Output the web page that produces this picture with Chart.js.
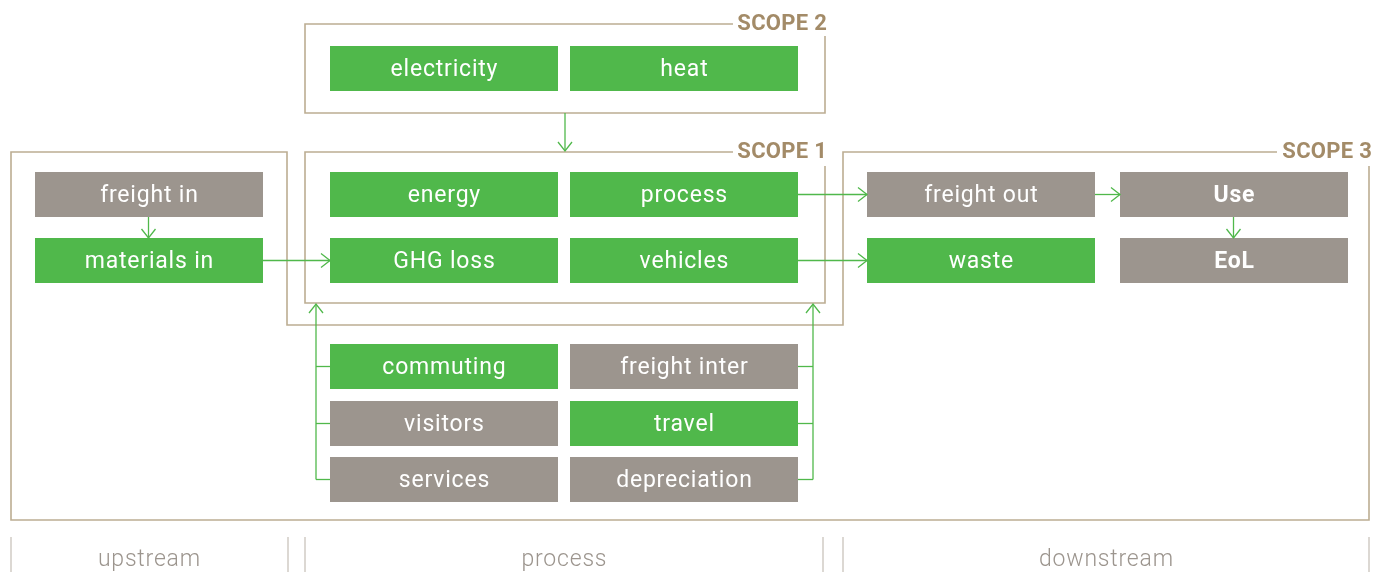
<!DOCTYPE html>
<html>
<head>
<meta charset="utf-8">
<script src="https://cdn.jsdelivr.net/npm/chart.js@4.4.1/dist/chart.umd.min.js"></script>
<style>
  html, body { margin: 0; padding: 0; background: #fff; }
  #wrap { width: 1384px; height: 572px; position: relative; }
</style>
</head>
<body>
<div id="wrap"><canvas id="scopes"></canvas></div>
<script>
// boxes of the diagram
const boxLabels = ['electricity', 'heat', 'freight in', 'energy', 'process', 'freight out', 'Use',
                   'materials in', 'GHG loss', 'vehicles', 'waste', 'EoL',
                   'commuting', 'freight inter', 'visitors', 'travel', 'services', 'depreciation'];
const boxKinds  = ['green', 'green', 'grey', 'green', 'green', 'grey', 'grey',
                   'green', 'green', 'green', 'green', 'grey',
                   'green', 'grey', 'grey', 'green', 'grey', 'grey'];
const boxBold   = ['Use', 'EoL'];
const boxCol    = [1, 2, 0, 1, 2, 3, 4, 0, 1, 2, 3, 4, 1, 2, 1, 2, 1, 2];
const boxRow    = [0, 0, 1, 1, 1, 1, 1, 2, 2, 2, 2, 2, 3, 3, 4, 4, 5, 5];

// arrows between boxes
const arrowLinks = [['freight in', 'materials in'], ['materials in', 'GHG loss'], ['process', 'freight out'],
                    ['vehicles', 'waste'], ['freight out', 'Use'], ['Use', 'EoL']];
const leftFeeds  = ['commuting', 'visitors', 'services'];
const rightFeeds = ['freight inter', 'travel', 'depreciation'];

const scopeTitles = ['SCOPE 2', 'SCOPE 1', 'SCOPE 3'];
const stageLabels = ['upstream', 'process', 'downstream'];

// layout
const colLeft = [35, 330, 570, 867, 1120];
const rowTop  = [46, 172, 238, 344, 401, 457];
const boxW = 228, boxH = 45;

const GREEN = '#50b84b', GREY = '#9c958e', FRAME = '#bcad92', TITLE = '#a38b68';

function boxRect(label) {
    const i = boxLabels.indexOf(label);
    return {x: colLeft[boxCol[i]], y: rowTop[boxRow[i]], w: boxW, h: boxH};
}

const diagram = {
    id: 'diagram',
    afterDatasetsDraw(chart) {
        const ctx = chart.ctx;
        const sx = v => chart.scales.x.getPixelForValue(v);
        const sy = v => chart.scales.y.getPixelForValue(v);

        function line(pts, color, width) {
            ctx.beginPath();
            ctx.moveTo(sx(pts[0][0]), sy(pts[0][1]));
            for (let k = 1; k < pts.length; k++) ctx.lineTo(sx(pts[k][0]), sy(pts[k][1]));
            ctx.strokeStyle = color;
            ctx.lineWidth = width;
            ctx.stroke();
        }
        function head(x, y, dir) {
            // open chevron, tip at (x, y)
            const a = 7, l = 9;
            if (dir === 'down') line([[x - a, y - l], [x, y], [x + a, y - l]], GREEN, 1.3);
            if (dir === 'up') line([[x - a, y + l], [x, y], [x + a, y + l]], GREEN, 1.3);
            if (dir === 'right') line([[x - l, y - a], [x, y], [x - l, y + a]], GREEN, 1.3);
        }
        function text(str, x, y, spacing) {
            ctx.letterSpacing = spacing + 'px';
            ctx.fillText(str, sx(x) + spacing / 2, sy(y));
        }

        ctx.save();

        // scope frames
        line([[733, 24], [305, 24], [305, 113], [825, 113], [825, 36]], FRAME, 1.6);
        line([[733, 152], [305, 152], [305, 303], [825, 303], [825, 166]], FRAME, 1.6);
        line([[1277, 152], [843, 152], [843, 325], [287, 325], [287, 152], [11, 152], [11, 520], [1369, 520], [1369, 166]], FRAME, 1.6);

        ctx.font = 'bold 22px Roboto';
        ctx.fillStyle = TITLE;
        ctx.textAlign = 'right';
        ctx.textBaseline = 'middle';
        text(scopeTitles[0], 827, 24, 0.3);
        text(scopeTitles[1], 827, 152, 0.3);
        text(scopeTitles[2], 1372, 152, 0.3);

        // boxes
        ctx.textAlign = 'center';
        boxLabels.forEach((lab, i) => {
            const r = boxRect(lab);
            ctx.fillStyle = boxKinds[i] === 'green' ? GREEN : GREY;
            ctx.fillRect(sx(r.x), sy(r.y), sx(r.x + r.w) - sx(r.x), sy(r.y + r.h) - sy(r.y));
            ctx.fillStyle = '#ffffff';
            ctx.font = (boxBold.includes(lab) ? 'bold ' : '') + '23px Roboto';
            text(lab, r.x + r.w / 2, r.y + r.h / 2 + 2, 0.8);
        });

        // arrows between boxes
        arrowLinks.forEach(([from, to]) => {
            const a = boxRect(from), b = boxRect(to);
            if (a.x === b.x) {
                const cx = a.x + a.w / 2 - 0.5;
                line([[cx, a.y + a.h], [cx, b.y]], GREEN, 1.3);
                head(cx, b.y, 'down');
            } else {
                const cy = a.y + a.h / 2;
                line([[a.x + a.w, cy], [b.x, cy]], GREEN, 1.3);
                head(b.x, cy, 'right');
            }
        });

        // scope 2 -> scope 1
        line([[565, 113], [565, 151]], GREEN, 1.3);
        head(565, 151, 'down');

        // side feeds into scope 1
        const lastL = boxRect(leftFeeds[leftFeeds.length - 1]);
        line([[316, lastL.y + lastL.h / 2], [316, 304]], GREEN, 1.3);
        head(316, 304, 'up');
        leftFeeds.forEach(lab => {
            const r = boxRect(lab);
            line([[316, r.y + r.h / 2], [r.x, r.y + r.h / 2]], GREEN, 1.3);
        });
        const lastR = boxRect(rightFeeds[rightFeeds.length - 1]);
        line([[813, lastR.y + lastR.h / 2], [813, 304]], GREEN, 1.3);
        head(813, 304, 'up');
        rightFeeds.forEach(lab => {
            const r = boxRect(lab);
            line([[r.x + r.w, r.y + r.h / 2], [813, r.y + r.h / 2]], GREEN, 1.3);
        });

        // stage bands at the bottom
        [11, 288, 305, 823, 843, 1369].forEach(v => line([[v, 537], [v, 572]], '#c9c3bc', 1.3));
        ctx.font = '300 23px Roboto';
        ctx.fillStyle = GREY;
        text(stageLabels[0], 149, 560, 0.8);
        text(stageLabels[1], 564, 560, 0.8);
        text(stageLabels[2], 1106, 560, 0.8);

        ctx.restore();
    }
};

new Chart(document.getElementById('scopes').getContext('2d'), {
    type: 'scatter',
    data: {datasets: [{data: [], pointRadius: 0}]},
    options: {
        responsive: true,
        maintainAspectRatio: false,
        animation: false,
        layout: {padding: 0},
        plugins: {legend: {display: false}, tooltip: {enabled: false}},
        scales: {
            x: {type: 'linear', min: 0, max: 1384, display: false},
            y: {type: 'linear', min: 0, max: 572, reverse: true, display: false}
        }
    },
    plugins: [diagram]
});
</script>
</body>
</html>
